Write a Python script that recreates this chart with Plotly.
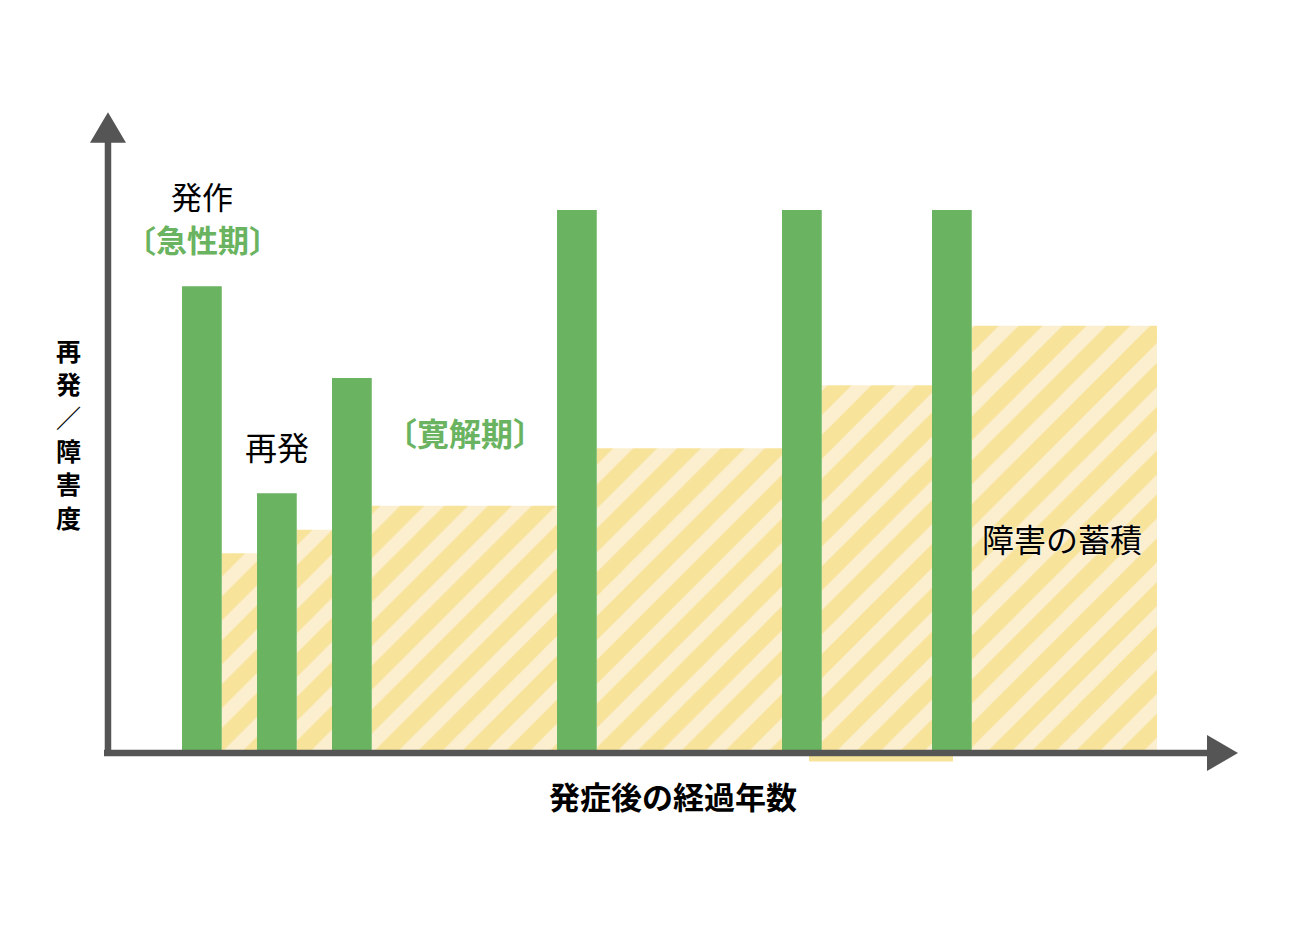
import plotly.graph_objects as go

# relapse / disability over years since onset (schematic)
attack_years = [1, 2, 3, 6, 9, 11]
attack_height = [77.3, 42.8, 62.0, 90, 90, 90]
bar_width = 0.53

damage_start = [1.53, 2.53, 3.53, 6.53, 9.53, 11.53]
damage_end = [2, 3, 6, 9, 11, 14]
damage_level = [32.8, 36.7, 40.7, 50.3, 60.8, 70.7]

y_title_chars = ["再", "発", "／", "障", "害", "度"]

green = "#6ab360"
yellow = "#f8e39b"
yellow_light = "#fbefcf"
axis_gray = "#555555"
font_jp = "Noto Sans CJK JP"

fig = go.Figure()

# accumulated disability (hatched steps)
fig.add_trace(go.Bar(
    x=damage_start,
    y=damage_level,
    width=[e - s for s, e in zip(damage_start, damage_end)],
    offset=0,
    marker=dict(
        color=yellow,
        line=dict(width=0),
        pattern=dict(shape="/", fgcolor=yellow_light, bgcolor=yellow,
                     size=31, solidity=0.45, fillmode="replace"),
    ),
    hoverinfo="skip",
))

# attacks / relapses
fig.add_trace(go.Bar(
    x=attack_years,
    y=attack_height,
    width=bar_width,
    offset=0,
    marker=dict(color=green, line=dict(width=0)),
    hoverinfo="skip",
))

shapes = [
    # thin yellow strip under the axis
    dict(type="rect", xref="x", yref="y", x0=9.36, x1=11.28, y0=-1.9, y1=-0.6,
         fillcolor=yellow, line=dict(width=0), layer="below"),
    # x axis
    dict(type="line", xref="x", yref="y", x0=-0.04, x1=14.7, y0=-0.5, y1=-0.5,
         line=dict(color=axis_gray, width=6.5)),
    dict(type="path", xref="x", yref="y",
         path="M 14.667 2.5 L 15.08 -0.5 L 14.667 -3.5 Z",
         fillcolor=axis_gray, line=dict(width=0)),
    # y axis
    dict(type="line", xref="x", yref="y", x0=0.013, x1=0.013, y0=-1.0, y1=101.5,
         line=dict(color=axis_gray, width=6.5)),
    dict(type="path", xref="x", yref="y",
         path="M -0.227 101.2 L 0.013 106.3 L 0.253 101.2 Z",
         fillcolor=axis_gray, line=dict(width=0)),
]

annotations = [
    dict(x=1.27, y=92.5, text="発作", font=dict(size=31, color="black")),
    dict(x=1.27, y=85.3, text="<b>〔急性期〕</b>", font=dict(size=31, color=green)),
    dict(x=2.27, y=50.7, text="再発", font=dict(size=32, color="black")),
    dict(x=4.77, y=53.0, text="<b>〔寛解期〕</b>", font=dict(size=32, color=green)),
    dict(x=12.73, y=35.3, text="障害の蓄積",
         font=dict(size=32, color="black", shadow="0px 0px 2px white")),
    dict(x=7.55, y=-7.5, text="<b>発症後の経過年数</b>", font=dict(size=31, color="black")),
]
# vertical y title, one character per line
for i, ch in enumerate(y_title_chars):
    annotations.append(dict(x=-0.52, y=66.7 - i * 5.57, text="<b>" + ch + "</b>",
                            font=dict(size=25, color="black")))
for a in annotations:
    a.update(xref="x", yref="y", showarrow=False, xanchor="center", yanchor="middle")

fig.update_layout(
    width=1300,
    height=950,
    margin=dict(l=9, r=46, t=82, b=148),
    barmode="overlay",
    showlegend=False,
    plot_bgcolor="white",
    paper_bgcolor="white",
    font=dict(family=font_jp),
    xaxis=dict(range=[-1.2, 15.4], visible=False, fixedrange=True),
    yaxis=dict(range=[-10, 110], visible=False, fixedrange=True),
    shapes=shapes,
    annotations=annotations,
)

fig.write_html("out.html")
